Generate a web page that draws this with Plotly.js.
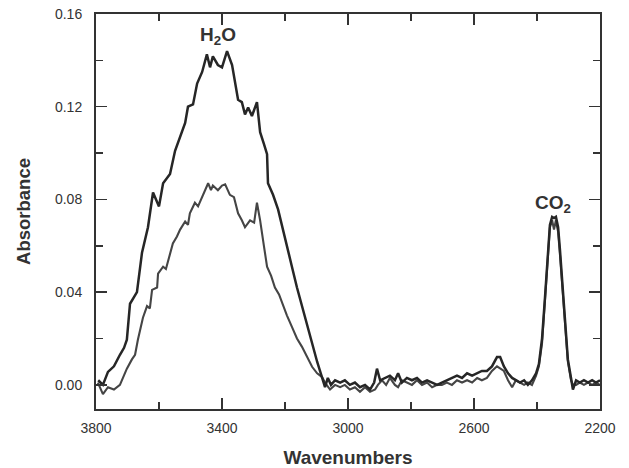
<!DOCTYPE html>
<html>
<head>
<meta charset="utf-8">
<script src="https://cdn.plot.ly/plotly-3.0.1.min.js"></script>
<style>html,body{margin:0;padding:0;background:#fff;}#chart{width:629px;height:468px;}</style>
</head>
<body>
<div id="chart"></div>
<script>
// Upper (stronger) spectrum
var upperWn = [3793,3778,3762,3743,3724,3711,3702,3692,3679,3670,3654,3635,3619,3610,3600,3587,3565,3549,3533,3517,3508,3492,3479,3463,3448,3438,3429,3413,3400,3384,3368,3359,3349,3337,3327,3317,3305,3289,3279,3267,3257,3254,3238,3222,3200,3178,3162,3146,3130,3114,3098,3083,
3073,3064,3054,3041,3025,3010,2994,2978,2962,2946,2930,2917,2908,2898,2883,2867,2851,2841,2829,2813,2797,2781,2765,2749,2733,2717,2702,2686,2670,2654,2638,2622,2606,2590,2575,2559,2543,2527,2517,2505,2492,2479,2467,2454,2441,2429,2416,2403,2394,2384,2375,2365,2359,2352,2346,2340,2333,2327,2318,2311,2302,2292,2286,2276,2264,2251,2238,2225,2213,2200];
var upperAbs = [0.002,0.000,0.0056,0.008,0.013,0.016,0.0195,0.035,0.038,0.040,0.057,0.068,0.083,0.080,0.077,0.087,0.091,0.101,0.107,0.113,0.120,0.121,0.130,0.135,0.1426,0.137,0.1417,0.138,0.137,0.144,0.138,0.130,0.123,0.122,0.1167,0.1197,0.116,0.122,0.109,0.104,0.0995,0.087,0.082,0.0757,0.0627,0.051,0.042,0.0337,0.026,0.018,0.010,0.0035,
-0.001,0.003,0.000,0.002,0.001,0.002,0.000,0.001,-0.001,0.000,-0.002,0.001,0.007,0.002,0.003,0.004,0.002,0.005,0.001,0.003,0.002,0.003,0.001,0.002,0.001,0.000,0.001,0.002,0.003,0.004,0.003,0.005,0.004,0.005,0.006,0.006,0.008,0.012,0.012,0.008,0.005,0.003,0.002,0.001,0.002,0.000,0.002,0.005,0.009,0.020,0.037,0.058,0.069,0.0725,0.072,0.0725,0.068,0.058,0.040,0.029,0.011,0.003,-0.002,0.002,0.001,0.002,0.001,0.002,0.001,0.002];

// Lower (weaker) spectrum
var lowerWn = [3794,3778,3762,3743,3724,3711,3702,3686,3676,3667,3651,3638,3629,3622,3606,3603,3587,3578,3565,3556,3543,3533,3517,3508,3502,3486,3476,3463,3444,3435,3429,3413,3400,3390,3375,3362,3349,3337,3327,3311,3298,3289,3279,3267,3257,3244,3232,3219,3210,3194,3178,3162,3146,3130,3114,3098,3083,
3073,3057,3041,3025,3010,2994,2978,2962,2946,2930,2914,2905,2892,2879,2867,2851,2841,2829,2813,2797,2781,2765,2749,2733,2717,2702,2686,2670,2654,2638,2622,2606,2590,2575,2559,2543,2527,2517,2505,2492,2479,2467,2454,2441,2429,2416,2403,2394,2384,2375,2365,2359,2352,2346,2340,2333,2327,2318,2311,2302,2292,2286,2276,2264,2251,2238,2225,2213,2200];
var lowerAbs = [0.001,-0.004,-0.001,-0.002,0.000,0.004,0.007,0.011,0.013,0.0195,0.029,0.034,0.033,0.041,0.042,0.048,0.051,0.050,0.057,0.061,0.064,0.067,0.0705,0.069,0.074,0.0786,0.077,0.081,0.087,0.084,0.086,0.084,0.086,0.0865,0.082,0.081,0.074,0.071,0.068,0.071,0.070,0.0786,0.071,0.060,0.051,0.047,0.042,0.039,0.0354,0.030,0.025,0.020,0.0164,0.012,0.0078,0.005,0.0035,
0.001,-0.002,0.000,-0.001,0.000,-0.002,-0.001,-0.003,-0.001,-0.003,-0.002,0.000,0.002,0.000,0.003,0.000,-0.001,0.002,0.001,0.000,0.002,0.000,0.001,-0.001,0.000,0.000,0.001,0.000,0.002,0.001,0.002,0.001,0.003,0.002,0.003,0.006,0.008,0.007,0.006,0.002,-0.001,0.002,0.001,0.000,0.001,0.000,0.004,0.008,0.018,0.035,0.056,0.068,0.071,0.067,0.071,0.066,0.056,0.038,0.027,0.010,0.002,0.000,0.000,0.001,0.000,0.001,0.000,0.001,0.000];

var xTickVals = [3800,3400,3000,2600,2200];
var yTickVals = [0.00,0.04,0.08,0.12,0.16];
var yTickText = ["0.00","0.04","0.08","0.12","0.16"];

var FONT = "Liberation Sans, Arial, Helvetica, sans-serif";

var traces = [
  {x: lowerWn, y: lowerAbs, type: 'scatter', mode: 'lines',
   line: {color: '#454545', width: 2.1}, hoverinfo: 'skip'},
  {x: upperWn, y: upperAbs, type: 'scatter', mode: 'lines',
   line: {color: '#262626', width: 2.5}, hoverinfo: 'skip'}
];

var layout = {
  width: 629, height: 468,
  margin: {l: 96, r: 29, t: 14, b: 59},
  paper_bgcolor: '#ffffff', plot_bgcolor: '#ffffff',
  showlegend: false,
  font: {family: FONT, color: '#333333', size: 14},
  xaxis: {
    range: [3800, 2200], autorange: false,
    tickvals: xTickVals, ticktext: xTickVals.map(String),
    ticks: 'inside', ticklen: 11, tickwidth: 1.5, tickcolor: '#333',
    minor: {dtick: 200, tick0: 2200, ticks: 'inside', ticklen: 7, tickwidth: 1.5, tickcolor: '#333'},
    showline: true, linecolor: '#333', linewidth: 2, mirror: 'ticks',
    showgrid: false, zeroline: false,
    tickfont: {family: FONT, size: 14, color: '#333'},
    ticklabelstandoff: 5,
    title: {text: '<b>Wavenumbers</b>', font: {family: FONT, size: 19, color: '#333'}, standoff: 17}
  },
  yaxis: {
    range: [-0.0104, 0.16], autorange: false,
    tickvals: yTickVals, ticktext: yTickText,
    ticks: 'inside', ticklen: 11, tickwidth: 1.5, tickcolor: '#333',
    minor: {dtick: 0.02, tick0: 0, ticks: 'inside', ticklen: 7, tickwidth: 1.5, tickcolor: '#333'},
    showline: true, linecolor: '#333', linewidth: 2, mirror: 'ticks',
    showgrid: false, zeroline: false,
    tickfont: {family: FONT, size: 14, color: '#333'},
    ticklabelstandoff: 9,
    title: {text: '<b>Absorbance</b>', font: {family: FONT, size: 18.5, color: '#333'}, standoff: 19}
  },
  annotations: [
    {x: 3413, y: 0.1505, xref: 'x', yref: 'y', text: '<b>H<sub>2</sub>O</b>', showarrow: false,
     font: {family: FONT, size: 19, color: '#333'}},
    {x: 2350, y: 0.078, xref: 'x', yref: 'y', text: '<b>CO<sub>2</sub></b>', showarrow: false,
     font: {family: FONT, size: 19, color: '#333'}}
  ]
};

Plotly.newPlot('chart', traces, layout, {staticPlot: true, displayModeBar: false});
</script>
</body>
</html>
